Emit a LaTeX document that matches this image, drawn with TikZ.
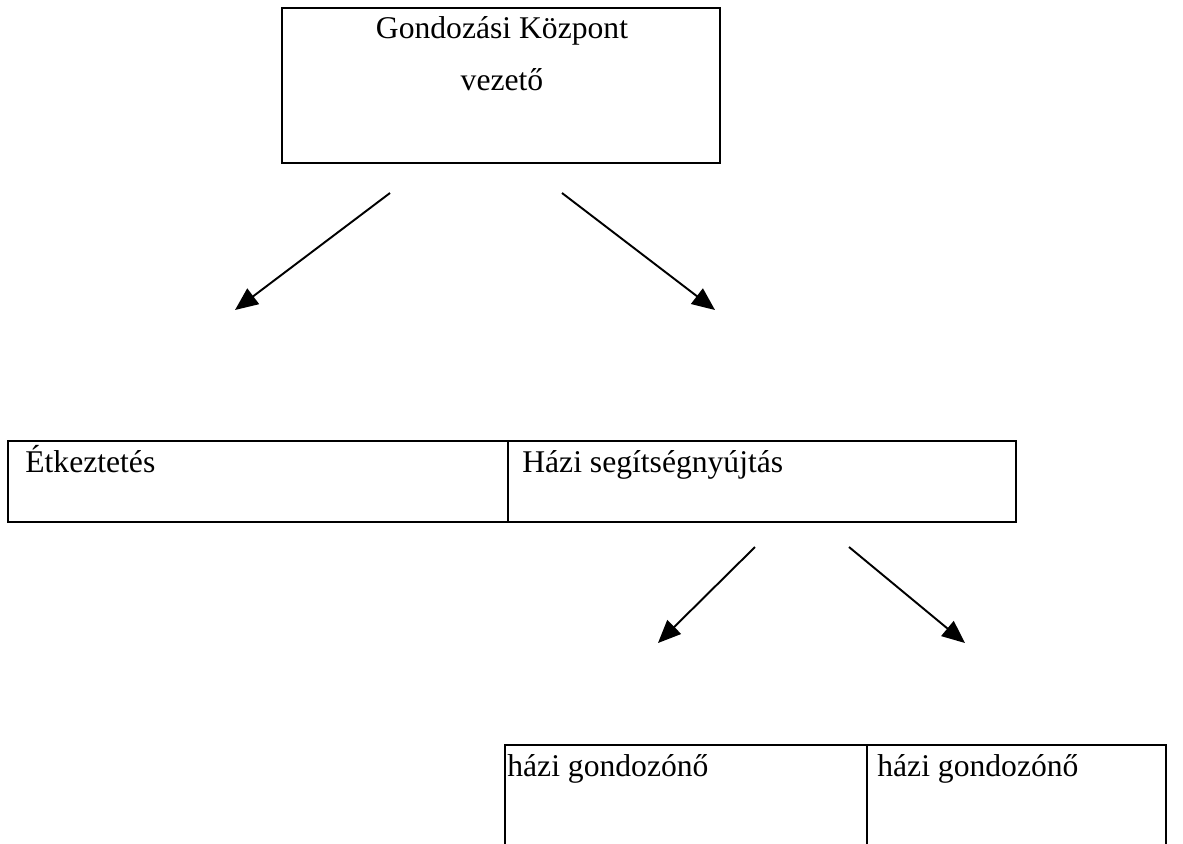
\documentclass[tikz,border=0pt]{standalone}
\usepackage{fontspec}
\setmainfont{Liberation Serif}
\usetikzlibrary{arrows.meta,positioning}

\begin{document}
\begin{tikzpicture}[x=0.02cm,y=-0.02cm,
		cell/.style={draw,line width=1.6pt,rectangle,inner sep=0pt},
		txt/.style={inner sep=0pt,font=\fontsize{18}{22}\selectfont},
		conn/.style={line width=1.1pt,-{Triangle[length=13pt,width=11pt]}}]
		\useasboundingbox (0,0) rectangle (1183,843);
		
		% top box
		\node[cell,minimum width=8.76cm,minimum height=3.1cm] (lead) at (501,85.5) {};
		\node[txt,anchor=base] (leadA) at (502,38) {Gondozási Központ};
		\node[txt,anchor=base] (leadB) at (502,90) {vezető};
		
		% middle row
		\node[cell,minimum width=10cm,minimum height=1.62cm] (meal) at (258,481.5) {};
		\node[cell,minimum width=10.16cm,minimum height=1.62cm] (home) at (762,481.5) {};
		\node[txt,anchor=base west] (mealT) at (25,472) {Étkeztetés};
		\node[txt,anchor=base west] (homeT) at (522,472) {Házi segítségnyújtás};
		
		% bottom row, cut off by the page edge
		\node[cell,minimum width=7.24cm,minimum height=3cm] (careA) at (686,820) {};
		\node[txt,anchor=base west] (careAT) at (507,776) {házi gondozónő};
		\node[cell,minimum width=5.98cm,minimum height=3cm] (careB) at (1016.5,820) {};
		\node[txt,anchor=base west] (careBT) at (877,776) {házi gondozónő};
		
		% arrow ends
		\coordinate (a1) at (390,193);
		\coordinate (b1) at (235,310);
		\coordinate (a2) at (562,193);
		\coordinate (b2) at (715,310);
		\coordinate (a3) at (755,547);
		\coordinate (b3) at (658,643);
		\coordinate (a4) at (849,547);
		\coordinate (b4) at (965,643);
		
		\draw[conn] (a1) -- (b1);
		\draw[conn] (a2) -- (b2);
		\draw[conn] (a3) -- (b3);
		\draw[conn] (a4) -- (b4);
\end{tikzpicture}
\end{document}
